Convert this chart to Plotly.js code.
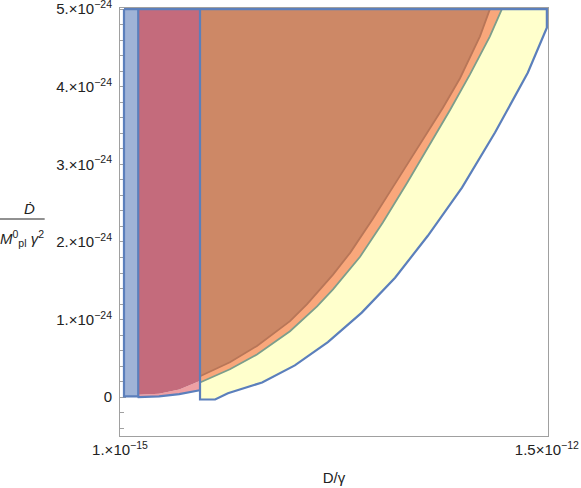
<!DOCTYPE html>
<html>
<head>
<meta charset="utf-8">
<script src="https://cdn.plot.ly/plotly-3.0.1.min.js"></script>
<style>
  html, body { margin: 0; padding: 0; background: #fff; }
  #chart { width: 581px; height: 488px; }
</style>
</head>
<body>
<div id="chart"></div>
<script>
// x in units of 1e-15 (D/gamma), y in units of 1e-24
var xMin = 1, xMax = 1500, yTop = 5;

// light blue band
var stripX = [15, 65];
var stripLow = [0.01, 0.01];

// red band and the blue boundary under it
var redX = [66, 138, 209, 281];
var redLow = [0.03, 0.045, 0.1, 0.21];
var floorLow = [0.0, 0.01, 0.04, 0.09];

// vertical edge where the yellow/orange/brown regions start
var splitX = 282;

// brown/orange boundary
var c1X = [282, 387, 482, 598, 658, 749, 809, 889, 977, 1037, 1135, 1195, 1265, 1300];
var c1Y = [0.27, 0.45, 0.66, 0.98, 1.20, 1.58, 1.86, 2.30, 2.81, 3.16, 3.73, 4.11, 4.65, 5.0];

// orange/yellow boundary
var c2X = [282, 387, 482, 598, 693, 749, 844, 924, 1009, 1079, 1160, 1230, 1300, 1342];
var c2Y = [0.19, 0.36, 0.55, 0.85, 1.17, 1.39, 1.81, 2.25, 2.76, 3.19, 3.70, 4.16, 4.65, 5.0];

// outer blue boundary of the yellow region
var c3X = [282, 335, 380, 500, 615, 731, 850, 967, 1082, 1202, 1318, 1433, 1500];
var c3Y = [-0.03, -0.03, 0.05, 0.19, 0.41, 0.71, 1.09, 1.54, 2.08, 2.70, 3.41, 4.18, 4.76];

var yTickVals = [0, 1, 2, 3, 4, 5];
var yTickText = ['0', '1.×10<sup>−24</sup>', '2.×10<sup>−24</sup>', '3.×10<sup>−24</sup>',
                 '4.×10<sup>−24</sup>', '5.×10<sup>−24</sup>'];
var xTickVals = [1, 1500];
var xTickText = ['1.×10<sup>−15</sup>', '1.5×10<sup>−12</sup>'];

var blueLine = '#5b7fbc';

function rev(a) { return a.slice().reverse(); }

function area(x, y, color) {
  return {x: x, y: y, type: 'scatter', mode: 'lines', fill: 'toself',
          fillcolor: color, line: {width: 0}, hoverinfo: 'skip'};
}

var yellow = area([splitX, xMax].concat(rev(c3X)), [yTop, yTop].concat(rev(c3Y)), '#ffffcc');
var orange = area(c2X.concat([c2X[0]]), c2Y.concat([yTop]), '#f9a77b');
var brown = area(c1X.concat([c1X[0]]), c1Y.concat([yTop]), '#cd8866');
var pink = area(redX.concat(rev(redX)), floorLow.concat(rev(redLow)), '#eea0a4');
var red = area(redX.concat([redX[redX.length - 1], redX[0]]), redLow.concat([yTop, yTop]), '#c46b7c');
var strip = area([stripX[0], stripX[1], stripX[1], stripX[0]],
                 [stripLow[0], stripLow[1], yTop, yTop], '#9fb3d7');

var c1Line = {x: c1X, y: c1Y, type: 'scatter', mode: 'lines',
              line: {color: '#b87658', width: 1.8}, hoverinfo: 'skip'};
var c2Line = {x: c2X, y: c2Y, type: 'scatter', mode: 'lines',
              line: {color: '#7c9e8c', width: 1.8}, hoverinfo: 'skip'};

// blue outlines, pieces split by nulls
var ox = [stripX[0], stripX[0], stripX[1]].concat(redX)
  .concat([null, stripX[1], stripX[1], null, stripX[0], xMax]).concat(rev(c3X)).concat([splitX]);
var oy = [yTop, stripLow[0], stripLow[1]].concat(floorLow)
  .concat([null, floorLow[0], yTop, null, yTop, yTop]).concat(rev(c3Y)).concat([yTop]);
var outline = {x: ox, y: oy, type: 'scatter', mode: 'lines',
               line: {color: blueLine, width: 2.2}, connectgaps: false, hoverinfo: 'skip'};

var data = [yellow, orange, brown, pink, red, strip, c1Line, c2Line, outline];

var font = {family: 'Liberation Sans, Arial, sans-serif', size: 15, color: '#222'};

var layout = {
  width: 581,
  height: 488,
  margin: {l: 120, r: 33, t: 8, b: 52},
  paper_bgcolor: '#fff',
  plot_bgcolor: '#fff',
  showlegend: false,
  font: font,
  xaxis: {
    range: [xMin, 1504],
    showgrid: false,
    zeroline: false,
    showline: true,
    mirror: true,
    linecolor: '#a0a0a0',
    linewidth: 1,
    ticks: '',
    tickmode: 'array',
    tickvals: xTickVals,
    ticktext: xTickText,
    tickfont: font,
    ticklabeloverflow: 'allow',
    layer: 'below traces',
    title: {text: 'D/γ', font: font, standoff: 15}
  },
  yaxis: {
    range: [-0.5, 5.015],
    showgrid: false,
    zeroline: false,
    showline: true,
    mirror: true,
    linecolor: '#a0a0a0',
    linewidth: 1,
    ticks: 'inside',
    ticklen: 6,
    tickcolor: '#a0a0a0',
    tickmode: 'array',
    tickvals: yTickVals,
    ticktext: yTickText,
    tickfont: font,
    ticklabeloverflow: 'allow',
    ticklabelstandoff: 4,
    minor: {tick0: 0, dtick: 0.2, ticks: 'inside', ticklen: 3.5, tickcolor: '#a0a0a0'},
    layer: 'below traces'
  },
  shapes: [{
    type: 'line', xref: 'paper', yref: 'paper',
    x0: -0.284, x1: -0.176, y0: 0.507, y1: 0.507,
    line: {color: '#222', width: 1}
  }],
  annotations: [
    {xref: 'paper', yref: 'paper', x: -0.212, y: 0.532, showarrow: false,
     xanchor: 'center', yanchor: 'middle', text: '<i>Ḋ</i>', font: font},
    {xref: 'paper', yref: 'paper', x: -0.229, y: 0.462, showarrow: false,
     xanchor: 'center', yanchor: 'middle',
     text: '<i>M</i><sup>0</sup><sub>pl</sub> <i>γ</i><sup>2</sup>', font: font}
  ]
};

Plotly.newPlot('chart', data, layout, {displayModeBar: false, staticPlot: true});
</script>
</body>
</html>
